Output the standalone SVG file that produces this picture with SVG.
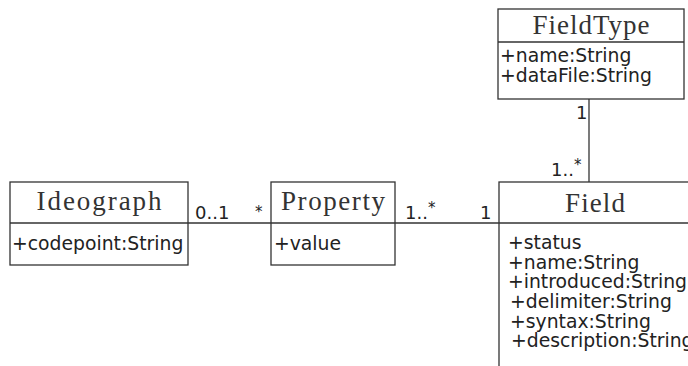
<svg xmlns="http://www.w3.org/2000/svg" width="688" height="366" viewBox="0 0 688 366">
  <style>
    .box { fill: #ffffff; stroke: #333333; stroke-width: 1.3; }
    .sep { stroke: #333333; stroke-width: 1.3; fill: none; }
    .title { font-family: "Liberation Serif", "DejaVu Serif", serif; font-size: 27px; fill: #333333; text-anchor: middle; }
    .attr { font-family: "DejaVu Sans", "Liberation Sans", sans-serif; font-size: 18.8px; fill: #222222; }
    .mult { font-family: "DejaVu Sans", "Liberation Sans", sans-serif; font-size: 18px; fill: #222222; }
    .star { font-family: "DejaVu Sans", "Liberation Sans", sans-serif; font-size: 15px; fill: #222222; }
    .link { stroke: #333333; stroke-width: 1.3; fill: none; }
  </style>
  <rect width="688" height="366" fill="#ffffff"/>

  <g id="connectors">
    <line class="link" x1="188" y1="223" x2="271" y2="223"/>
    <line class="link" x1="395" y1="223" x2="499" y2="223"/>
    <line class="link" x1="589" y1="99" x2="589" y2="182"/>
    <text class="mult" x="195" y="219">0..1</text>
    <text class="star" x="255" y="217">*</text>
    <text class="mult" x="405" y="219">1..<tspan class="star" dy="-6">*</tspan></text>
    <text class="mult" x="480" y="219">1</text>
    <text class="mult" x="576" y="119">1</text>
    <text class="mult" x="551" y="176">1..<tspan class="star" dy="-6">*</tspan></text>
  </g>

  <g id="FieldType">
    <rect class="box" x="498" y="9" width="186" height="90"/>
    <line class="sep" x1="498" y1="42" x2="684" y2="42"/>
    <text class="title" x="591" y="34" textLength="117" lengthAdjust="spacing">FieldType</text>
    <text class="attr" x="500" y="62">+name:String</text>
    <text class="attr" x="500" y="82">+dataFile:String</text>
  </g>

  <g id="Ideograph">
    <rect class="box" x="10" y="182" width="178" height="83"/>
    <line class="sep" x1="10" y1="223" x2="188" y2="223"/>
    <text class="title" x="99" y="210" textLength="125" lengthAdjust="spacing">Ideograph</text>
    <text class="attr" x="12" y="250">+codepoint:String</text>
  </g>

  <g id="Property">
    <rect class="box" x="271" y="182" width="124" height="83"/>
    <line class="sep" x1="271" y1="223" x2="395" y2="223"/>
    <text class="title" x="333" y="210" textLength="104" lengthAdjust="spacing">Property</text>
    <text class="attr" x="274" y="250">+value</text>
  </g>

  <g id="Field">
    <rect class="box" x="499" y="182" width="192" height="200"/>
    <line class="sep" x1="499" y1="223" x2="691" y2="223"/>
    <text class="title" x="595" y="212" textLength="60" lengthAdjust="spacing">Field</text>
    <text class="attr" x="508" y="249">+status</text>
    <text class="attr" x="508" y="269">+name:String</text>
    <text class="attr" x="508" y="288">+introduced:String</text>
    <text class="attr" x="510" y="308">+delimiter:String</text>
    <text class="attr" x="510" y="328">+syntax:String</text>
    <text class="attr" x="511" y="347">+description:String</text>
  </g>
</svg>
